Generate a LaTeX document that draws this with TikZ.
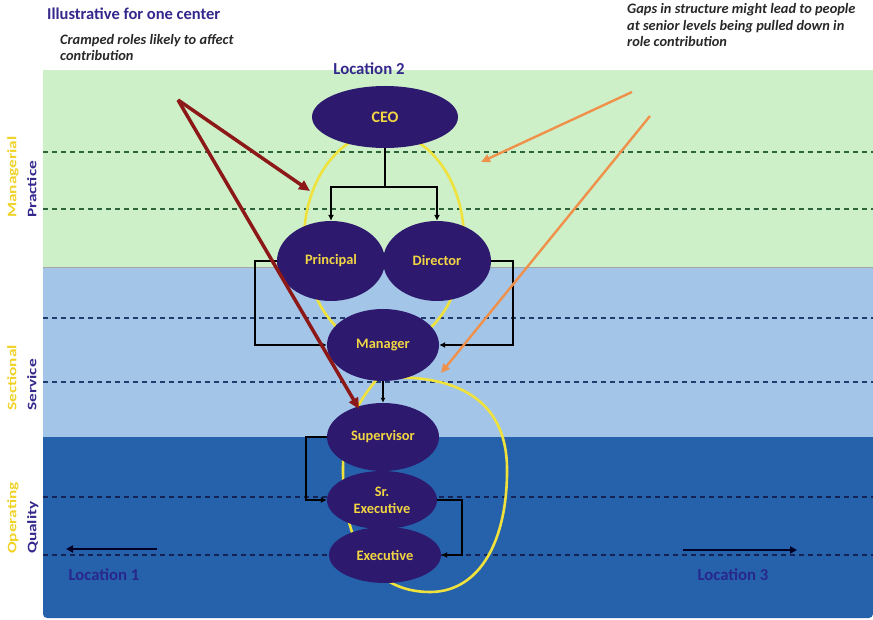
\documentclass[tikz,border=0pt]{standalone}
\usepackage{fontspec}
\setmainfont{Carlito}
\usetikzlibrary{shapes.geometric,arrows.meta}

\definecolor{bandgreen}{RGB}{205,240,201}
\definecolor{bandlight}{RGB}{163,197,232}
\definecolor{banddark}{RGB}{38,97,172}
\definecolor{rolefill}{RGB}{45,26,110}
\definecolor{roletext}{RGB}{242,213,67}
\definecolor{loopyellow}{RGB}{240,226,60}
\definecolor{titleblue}{RGB}{52,40,140}
\definecolor{locblue}{RGB}{40,40,140}
\definecolor{noteink}{RGB}{40,40,40}
\definecolor{cramped}{RGB}{140,24,24}
\definecolor{gaps}{RGB}{240,145,75}
\definecolor{dashgreen}{RGB}{45,100,60}
\definecolor{dashblue}{RGB}{35,60,110}
\definecolor{dashnavy}{RGB}{20,35,85}
\definecolor{tiergold}{RGB}{240,210,40}

\newcommand{\tierline}[2]{\textcolor{#1}{\scalebox{1.33}[1]{#2}}}

\tikzset{
  role/.style={ellipse, fill=rolefill, inner sep=0pt, text=roletext,
    font=\bfseries\fontsize{14.4}{17}\selectfont, align=center},
  conn/.style={draw=black, line width=1.6pt, -{Latex[length=6pt,width=6pt]}},
  plain/.style={draw=black, line width=1.6pt},
  level/.style={line width=1.2pt, dash pattern=on 5pt off 4pt},
  loop/.style={draw=loopyellow, line width=2.6pt},
  redarrow/.style={draw=cramped, line width=3.5pt, -{Triangle[length=11pt,width=10pt]}},
  orangearrow/.style={draw=gaps, line width=2.4pt, -{Triangle[length=9pt,width=8pt]}},
  note/.style={font=\bfseries\itshape\fontsize{14.4}{16.5}\selectfont, text=noteink, align=left, inner sep=0pt},
  tier/.style={rotate=90, anchor=north west, align=left, inner sep=0pt,
    font=\bfseries\fontsize{13}{20}\selectfont},
  locarrow/.style={draw=black!85!blue, line width=2.5pt, -{Triangle[length=7pt,width=7pt]}},
  loclabel/.style={text=locblue, font=\bfseries\fontsize{16.7}{18}\selectfont, inner sep=0pt}
}

\begin{document}
\begin{tikzpicture}[x=1pt,y=-1pt]
\useasboundingbox (0,0) rectangle (873,620);

% level bands
\fill[bandgreen] (43,70) rectangle (873,267);
\fill[bandlight] (43,267) rectangle (873,437);
\fill[banddark, rounded corners=4pt] (43,437) -- (43,618) -- (873,618) [sharp corners] -- (873,437) -- cycle;
\draw[gray!70, line width=0.6pt] (43,267) -- (873,267);

% dashed level lines
\foreach \yy in {152,209} \draw[level, dashgreen] (43,\yy) -- (873,\yy);
\foreach \yy in {318,382} \draw[level, dashblue] (43,\yy) -- (873,\yy);
\foreach \yy in {497,555} \draw[level, dashnavy] (43,\yy) -- (873,\yy);

% loops behind the roles
\draw[loop] (384,240) ellipse [x radius=80, y radius=108];
\draw[loop] (378,378) .. controls (470,372) and (506,410) .. (507,467)
  .. controls (508,540) and (480,592) .. (430,592)
  .. controls (370,592) and (343,540) .. (343,470)
  .. controls (343,430) and (355,405) .. (378,378);

% roles
\node[role, minimum width=146pt, minimum height=62pt, font=\bfseries\fontsize{16}{17}\selectfont] (ceo) at (385,117) {CEO};
\node[role, minimum width=108pt, minimum height=80pt] (principal) at (331,261) {Principal};
\node[role, minimum width=108pt, minimum height=80pt] (director) at (437,261) {Director};
\node[role, minimum width=112pt, minimum height=72pt] (manager) at (383,345) {Manager};
\node[role, minimum width=112pt, minimum height=68pt] (supervisor) at (383,437) {Supervisor};
\node[role, minimum width=110pt, minimum height=58pt] (srexec) at (382,500) {Sr.\\Executive};
\node[role, minimum width=112pt, minimum height=56pt] (exec) at (385,555) {Executive};

% reporting lines
\coordinate (split) at (385,187);
\draw[plain] (ceo.south) -- (split);
\draw[conn] (split) -| (principal.north);
\draw[conn] (split) -| (director.north);
\draw[conn] (principal.west) -- ++(-22,0) |- (manager.west);
\draw[conn] (director.east) -- ++(22,0) |- (manager.east);
\draw[conn, line width=1.2pt, -{Latex[length=5pt,width=5pt]}] (manager.south) -- (supervisor.north);
\draw[conn] (supervisor.west) -- ++(-21,0) |- (srexec.west);
\draw[conn] (srexec.east) -- ++(25,0) |- (exec.east);

% annotations
\node[anchor=base west, inner sep=0pt, text=titleblue, font=\bfseries\fontsize{16.5}{18}\selectfont] (title) at (47,20) {Illustrative for one center};
\node[anchor=base, inner sep=0pt, text=titleblue, font=\bfseries\fontsize{16.8}{18}\selectfont] (loc2) at (369,75) {Location 2};
\node[note, anchor=base west] (crampednote) at (60,61) {Cramped roles likely to affect\\contribution};
\node[note, anchor=base west] (gapsnote) at (627,47) {Gaps in structure might lead to people\\at senior levels being pulled down in\\role contribution};

\coordinate (cr) at (178,100);
\draw[redarrow] (cr) -- (310,191);
\draw[redarrow] (cr) -- (359,409);

\coordinate (g1) at (632,92);
\coordinate (g2) at (650,116);
\draw[orangearrow] (g1) -- (481,162);
\draw[orangearrow] (g2) -- (441,373);

% tier labels
\node[tier] (t1) at (7,218) {\tierline{tiergold}{Managerial}\\\tierline{titleblue}{Practice}};
\node[tier] (t2) at (7,411) {\tierline{tiergold}{Sectional}\\\tierline{titleblue}{Service}};
\node[tier] (t3) at (7,554) {\tierline{tiergold}{Operating}\\\tierline{titleblue}{Quality}};

% other locations
\coordinate (l1a) at (157,549);
\coordinate (l1b) at (66,549);
\coordinate (l3a) at (683,550);
\coordinate (l3b) at (797,550);
\draw[locarrow] (l1a) -- (l1b);
\draw[locarrow] (l3a) -- (l3b);
\node[loclabel, anchor=base] (loc1) at (104,580) {Location 1};
\node[loclabel, anchor=base] (loc3) at (733,580) {Location 3};
\end{tikzpicture}
\end{document}
